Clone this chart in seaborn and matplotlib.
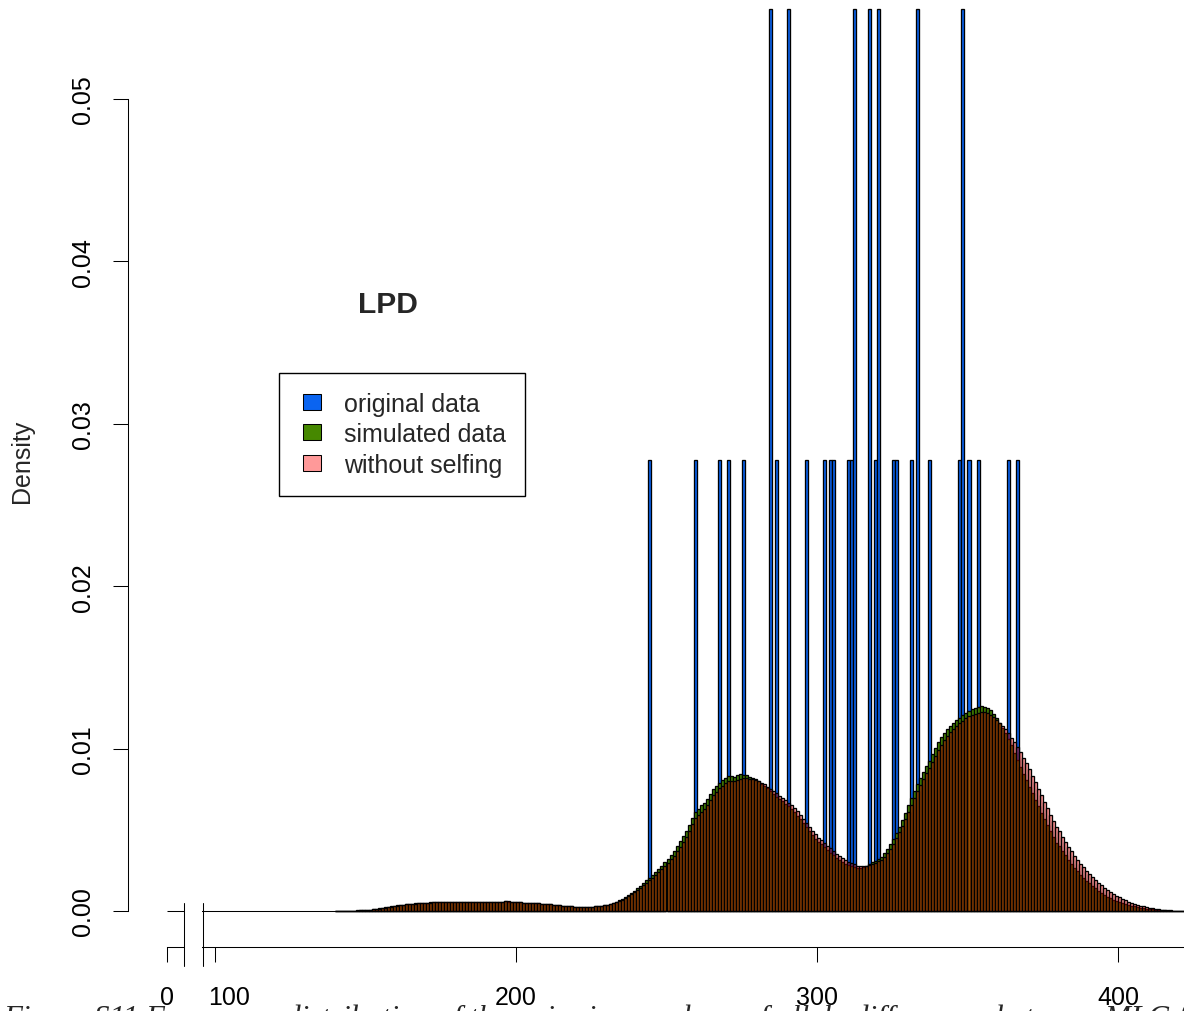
import numpy as np
import pandas as pd
import matplotlib
matplotlib.use("Agg")
import matplotlib.pyplot as plt
import matplotlib.transforms as mtransforms
from matplotlib.patches import Patch, Rectangle
from matplotlib.legend_handler import HandlerPatch
import seaborn as sns

# ---------------- data ----------------
# pairwise numbers of allele differences, original data (36 pairs)
original_values = [244, 259, 267, 270, 275, 284, 284, 286, 290, 290, 296, 302, 304, 305,
                   310, 311, 312, 312, 317, 317, 319, 320, 320, 325, 326, 331, 333, 333,
                   337, 347, 348, 348, 350, 353, 363, 366]

bin_start = 140  # first unit-width bin [140, 141)

# simulated data, density per unit bin (x 1e-5), bins 140..421
simulated_density_e5 = [
    0, 0, 1, 1, 2, 2, 3, 4, 5, 6,
    8, 9, 11, 13, 16, 19, 22, 25, 28, 31,
    34, 37, 39, 41, 43, 45, 47, 48, 50, 51,
    52, 53, 53, 54, 55, 55, 56, 55, 56, 57,
    56, 57, 58, 57, 56, 58, 57, 56, 57, 58,
    56, 55, 57, 56, 55, 57, 59, 56, 54, 55,
    54, 53, 52, 52, 51, 50, 49, 47, 46, 44,
    43, 41, 39, 37, 35, 33, 31, 30, 28, 27,
    26, 26, 25, 25, 26, 27, 29, 31, 33, 36,
    40, 44, 50, 57, 66, 76, 88, 100, 112, 126,
    140, 155, 170, 188, 205, 222, 240, 258, 278, 300,
    320, 345, 370, 400, 430, 460, 490, 530, 575, 610,
    630, 650, 665, 690, 720, 750, 770, 790, 805, 820,
    830, 832, 828, 835, 842, 840, 836, 828, 820, 810,
    798, 785, 772, 755, 738, 720, 705, 690, 675, 660,
    645, 628, 608, 588, 565, 540, 515, 490, 465, 445,
    425, 410, 392, 375, 358, 342, 325, 312, 300, 290,
    282, 275, 268, 262, 262, 268, 278, 290, 300, 310,
    318, 332, 355, 382, 412, 445, 480, 518, 560, 605,
    650, 695, 740, 780, 820, 855, 890, 925, 965, 1005,
    1040, 1070, 1095, 1120, 1140, 1160, 1175, 1190, 1205, 1220,
    1232, 1242, 1250, 1258, 1262, 1258, 1250, 1235, 1215, 1190,
    1160, 1128, 1095, 1060, 1020, 975, 930, 888, 845, 805,
    765, 725, 685, 645, 605, 565, 527, 490, 455, 420,
    400, 370, 342, 315, 290, 266, 244, 223, 204, 186,
    170, 154, 139, 125, 112, 100, 89, 79, 70, 62,
    55, 48, 42, 37, 32, 28, 24, 20, 17, 14,
    12, 10, 8, 6, 5, 4, 3, 3, 2, 2,
    1, 1,
]

# simulated without selfing, density per unit bin (x 1e-5), bins 140..421
noselfing_density_e5 = [
    0, 0, 1, 1, 1, 2, 3, 3, 4, 6,
    7, 9, 10, 13, 15, 18, 21, 24, 27, 30,
    33, 36, 38, 41, 43, 44, 46, 48, 49, 50,
    52, 52, 54, 53, 54, 56, 55, 56, 57, 56,
    57, 56, 57, 58, 57, 56, 57, 58, 56, 57,
    57, 56, 56, 57, 56, 56, 60, 62, 55, 54,
    55, 53, 52, 51, 51, 50, 48, 47, 45, 44,
    42, 41, 39, 37, 35, 33, 32, 30, 28, 27,
    26, 25, 25, 26, 26, 27, 28, 30, 32, 35,
    38, 42, 47, 53, 61, 70, 81, 93, 104, 117,
    130, 144, 158, 174, 190, 206, 222, 238, 256, 276,
    295, 318, 340, 368, 396, 425, 455, 492, 535, 570,
    592, 612, 630, 655, 685, 712, 735, 755, 772, 788,
    798, 802, 800, 808, 815, 818, 818, 815, 812, 805,
    798, 790, 780, 766, 752, 738, 724, 710, 696, 682,
    668, 652, 633, 614, 592, 568, 543, 518, 494, 472,
    452, 436, 419, 401, 385, 368, 351, 337, 324, 313,
    304, 295, 287, 280, 275, 276, 280, 285, 292, 298,
    305, 315, 332, 355, 384, 415, 448, 485, 525, 568,
    612, 655, 698, 740, 778, 814, 848, 882, 918, 955,
    990, 1022, 1050, 1076, 1100, 1120, 1140, 1156, 1172, 1186,
    1198, 1208, 1216, 1222, 1226, 1224, 1218, 1208, 1194, 1178,
    1160, 1140, 1118, 1094, 1068, 1040, 1010, 978, 945, 910,
    872, 832, 792, 752, 712, 672, 632, 594, 557, 520,
    490, 458, 426, 396, 368, 341, 316, 292, 270, 249,
    229, 210, 192, 175, 159, 144, 130, 117, 105, 94,
    84, 74, 65, 57, 50, 44, 38, 33, 28, 24,
    20, 17, 14, 11, 9, 7, 5, 4, 3, 2,
    2, 1,
]

y_ticks = [0.00, 0.01, 0.02, 0.03, 0.04, 0.05]
y_tick_labels = ["0.00", "0.01", "0.02", "0.03", "0.04", "0.05"]
x_ticks = [100, 200, 300, 400]
x_tick_labels = ["100", "200", "300", "400"]
x_zero_label = "0"
legend_labels = ["original data", "simulated data", "without selfing"]
title_text = "LPD"
ylabel_text = "Density"
caption_text = ("Figure S11 Frequency distribution of the pairwise numbers of allele "
                "differences between MLG f")

# ---------------- layout (pixel geometry of the page) ----------------
W, H = 1184, 1012
PX_X200 = 516.0
PX_PER_UNIT = 3.01
PX_Y0 = 912.0
PX_PER_DENS = 16240.0


def xd(px):
    return 200 + (px - PX_X200) / PX_PER_UNIT


def yd(py):
    return (PX_Y0 - py) / PX_PER_DENS


def fx(px):
    return px / W


def fy(py):
    return 1 - py / H


BLUE = "#0A64F0"
GREEN = "#468800"
PINK = (1.0, 0.0, 0.0, 0.4)
LW = 0.75
BAR_LW = 0.95

sns.set_style("ticks")
plt.rcParams["font.family"] = ["Liberation Sans", "DejaVu Sans"]

fig = plt.figure(figsize=(W / 100, H / 100), dpi=100)
ax = fig.add_axes([0, 0, 1, 1])
ax.patch.set_alpha(0)

n_bins = len(simulated_density_e5)
edges = [float(bin_start + i) for i in range(n_bins + 1)]
df_sim = pd.DataFrame({
    "x": [bin_start + i + 0.5 for i in range(n_bins)],
    "sim": np.array(simulated_density_e5) * 1e-5,
    "nos": np.array(noselfing_density_e5) * 1e-5,
})
df_orig = pd.DataFrame({"x": original_values})


def restyle(start, face):
    for p in ax.patches[start:]:
        p.set_alpha(None)
        p.set_facecolor(face)
        p.set_edgecolor("black")
        p.set_linewidth(BAR_LW)


n0 = len(ax.patches)
sns.histplot(data=df_orig, x="x", bins=edges, stat="density", ax=ax)
restyle(n0, BLUE)
n1 = len(ax.patches)
sns.histplot(data=df_sim, x="x", weights="sim", bins=edges, stat="count", ax=ax)
restyle(n1, GREEN)
n2 = len(ax.patches)
sns.histplot(data=df_sim, x="x", weights="nos", bins=edges, stat="count", ax=ax)
restyle(n2, PINK)

ax.set_xlabel("")
ax.set_ylabel("")
ax.set_xlim(xd(0), xd(W))
ax.set_ylim(yd(H), yd(0))

# axes (R style, with broken x axis)
for s in ["top", "right"]:
    ax.spines[s].set_visible(False)
ax.spines["left"].set_position(("data", xd(127.7)))
ax.spines["left"].set_bounds(y_ticks[0], y_ticks[-1])
ax.spines["bottom"].set_position(("data", yd(948)))
ax.spines["bottom"].set_bounds(xd(167), xd(W))
for s in ["left", "bottom"]:
    ax.spines[s].set_linewidth(LW)
    ax.spines[s].set_color("black")

ax.set_yticks(y_ticks, y_tick_labels, rotation=90, va="center", fontsize=18)
ax.set_xticks([xd(167)] + x_ticks, [x_zero_label] + x_tick_labels, fontsize=18)
ax.tick_params(axis="y", length=10.8, width=LW, pad=12.5, colors="black")
ax.tick_params(axis="x", length=10.8, width=LW, pad=16.5, colors="black")
lbls = ax.get_xticklabels()
lbls[1].set_transform(lbls[1].get_transform() +
                      mtransforms.ScaledTranslation(14 / 100, 0, fig.dpi_scale_trans))

# zero line of the histogram and the axis break
ax.hlines(0, xd(167), xd(W), color="black", lw=LW, zorder=2)
ax.add_patch(Rectangle((xd(185), yd(975)), xd(202) - xd(185), yd(900) - yd(975),
                       facecolor="white", edgecolor="none", zorder=3, clip_on=False))
for bx in (184, 203):
    ax.plot([xd(bx), xd(bx)], [yd(904), yd(967)], color="black", lw=LW, zorder=4,
            clip_on=False)

# legend (R-style small square keys)
KEY_W_PT, KEY_H_PT = 13.0, 11.5


def square_key(legend, orig_handle, xdescent, ydescent, width, height, fontsize):
    return Rectangle((-xdescent + width - KEY_W_PT, -ydescent + (height - KEY_H_PT) / 2),
                     KEY_W_PT, KEY_H_PT)


handles = [Patch(facecolor=c, edgecolor="black", linewidth=LW) for c in (BLUE, GREEN, PINK)]
leg = ax.legend(handles, legend_labels, loc="upper left",
                bbox_to_anchor=(fx(279), fy(374)), bbox_transform=fig.transFigure,
                borderaxespad=0, fancybox=False, framealpha=1, edgecolor="black",
                fontsize=18, handlelength=0.92, handleheight=0.64, handletextpad=0.92,
                borderpad=0.75, labelspacing=0.26,
                handler_map={Patch: HandlerPatch(patch_func=square_key)})
leg.get_frame().set_linewidth(1.0)

# texts
fig.text(fx(388), fy(305), title_text, fontsize=21.6, fontweight="bold",
         ha="center", va="center")
fig.text(fx(22), fy(461), ylabel_text, fontsize=18, rotation=90,
         ha="center", va="center")
fig.text(fx(3), fy(1027), caption_text, fontsize=22.3, style="italic",
         family=["Liberation Serif", "DejaVu Serif"], ha="left", va="baseline")

fig.savefig("out.png", dpi=100)
